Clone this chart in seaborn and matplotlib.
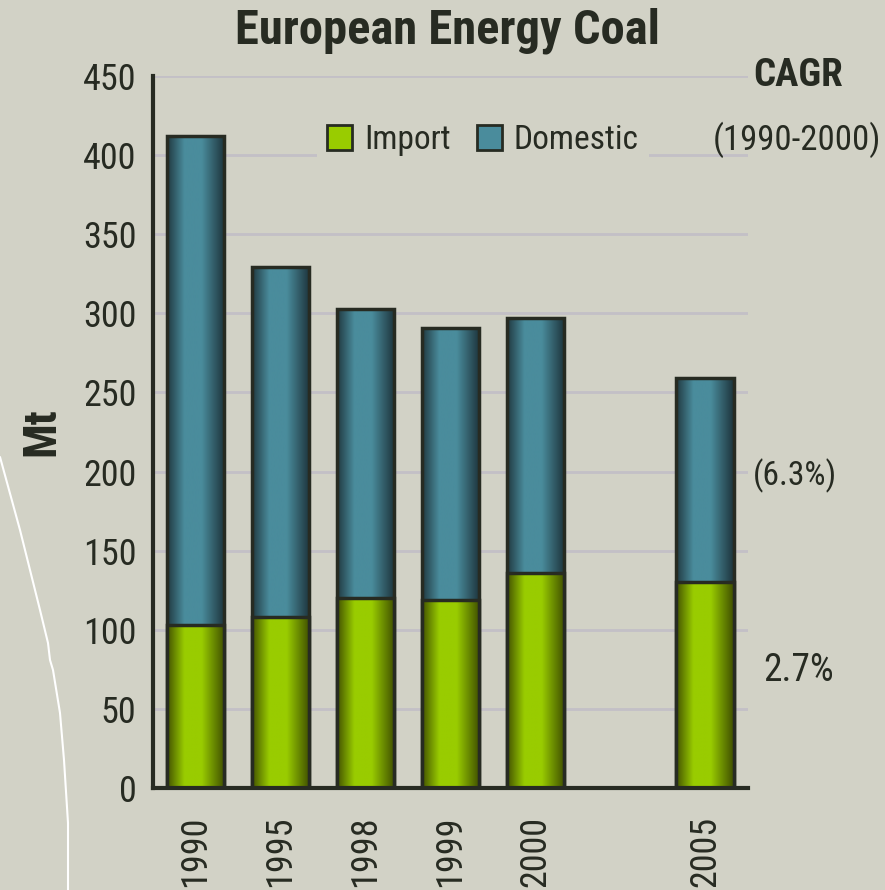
import numpy as np
import pandas as pd
import matplotlib
matplotlib.use('Agg')
import matplotlib.pyplot as plt
import seaborn as sns
from matplotlib.colors import LinearSegmentedColormap
from matplotlib.patches import Patch
from matplotlib.lines import Line2D

# data (Mt); blank slot between 2000 and 2005
years = ['1990', '1995', '1998', '1999', '2000', '', '2005']
imports = [103, 108, 120, 119, 136, np.nan, 130]
domestic = [309, 221, 183, 172, 161, np.nan, 129]
cagr_labels = ['(6.3%)', '2.7%']

bg = '#d2d2c6'
ink = '#272b22'
grid_col = '#c3c0c6'

sns.set_style('white')
plt.rcParams['font.family'] = ['Roboto Condensed', 'DejaVu Sans']

df = pd.DataFrame({'year': years, 'import': imports, 'domestic': domestic})
df['total'] = df['import'] + df['domestic']

fig = plt.figure(figsize=(8.85, 8.9), dpi=100, facecolor=bg)
ax = fig.add_axes([0.173, 0.1146, 0.672, 0.80])
ax.set_facecolor(bg)

teal_cmap = LinearSegmentedColormap.from_list('teal', [
    (0.0, '#203840'), (0.3, '#4a8c9c'), (0.6, '#4a8c9c'), (1.0, '#1d333b')])
green_cmap = LinearSegmentedColormap.from_list('green', [
    (0.0, '#425200'), (0.3, '#99cc00'), (0.6, '#99cc00'), (1.0, '#3e4e00')])


def gradient_fill(patches, cmap, z):
    grad = np.linspace(0, 1, 256).reshape(1, -1)
    for p in patches:
        if not np.isfinite(p.get_height()) or p.get_height() == 0:
            continue
        x0, y0 = p.get_x(), p.get_y()
        w, h = p.get_width(), p.get_height()
        im = ax.imshow(grad, cmap=cmap, aspect='auto', interpolation='bilinear',
                       extent=[x0, x0 + w, y0, y0 + h], zorder=z)
        im.set_clip_path(p)
        p.set_facecolor('none')
        p.set_zorder(z + 0.05)


n0 = len(ax.patches)
sns.barplot(data=df, x='year', y='total', order=years, color='#4a8c9c',
            width=0.68, edgecolor=ink, linewidth=2.5, errorbar=None, ax=ax)
teal_bars = ax.patches[n0:]
n1 = len(ax.patches)
sns.barplot(data=df, x='year', y='import', order=years, color='#99cc00',
            width=0.68, edgecolor=ink, linewidth=2.5, errorbar=None, ax=ax)
green_bars = ax.patches[n1:]

gradient_fill(teal_bars, teal_cmap, 2.0)
gradient_fill(green_bars, green_cmap, 2.2)

ax.set_xlim(-0.5, len(years) - 0.5)
ax.set_ylim(0, 450)
ax.set_yticks(np.arange(0, 451, 50))
ax.set_xticks(range(len(years)))
ax.set_xticklabels(years, rotation=90)
ax.set_xticks(np.arange(-0.5, len(years), 1), minor=True)
ax.tick_params(axis='x', which='major', length=0, pad=20, labelsize=26, labelcolor=ink)
ax.tick_params(axis='x', which='minor', length=9, width=3, color=ink, direction='out')
ax.tick_params(axis='y', length=9, width=3, color=ink, direction='out', pad=3,
               labelsize=26, labelcolor=ink)

ax.set_axisbelow(True)
ax.yaxis.grid(True, color=grid_col, linewidth=2)
ax.xaxis.grid(False)
for s in ['top', 'right']:
    ax.spines[s].set_visible(False)
for s in ['left', 'bottom']:
    ax.spines[s].set_color(ink)
    ax.spines[s].set_linewidth(3)

ax.set_xlabel('')
ax.set_ylabel('Mt', fontsize=33, fontweight='bold', color=ink, labelpad=14)

handles = [Patch(facecolor='#99cc00', edgecolor=ink, linewidth=2),
           Patch(facecolor='#4a8c9c', edgecolor=ink, linewidth=2)]
leg = ax.legend(handles, ['Import', 'Domestic'], loc='center',
                bbox_to_anchor=(0.555, 0.91), ncol=2, frameon=True, fontsize=24,
                handlelength=0.75, handleheight=0.75, handletextpad=0.35,
                columnspacing=0.8, borderpad=0.3, labelcolor=ink)
leg.get_frame().set_facecolor(bg)
leg.get_frame().set_edgecolor('none')
leg.get_frame().set_alpha(1)
leg.set_zorder(5)

fig.text(0.506, 0.965, 'European Energy Coal', ha='center', va='center',
         fontsize=35, fontweight='bold', color=ink)
fig.text(0.902, 0.915, 'CAGR', ha='center', va='center', fontsize=28,
         fontweight='bold', color=ink)
fig.text(0.901, 0.843, '(1990-2000)', ha='center', va='center', fontsize=25,
         color=ink)
fig.text(0.898, 0.465, cagr_labels[0], ha='center', va='center', fontsize=24,
         color=ink)
fig.text(0.902, 0.247, cagr_labels[1], ha='center', va='center', fontsize=27,
         color=ink)

# decorative white curve at the left edge
px = np.array([0, 20, 40, 48, 50, 53, 60, 64, 68, 68])
py = np.array([457, 530, 610, 643, 660, 670, 713, 760, 823, 890])
fig.add_artist(Line2D(px / 885, 1 - py / 890, transform=fig.transFigure,
                      color='white', linewidth=1.5))

fig.savefig('out.png', dpi=100, facecolor=bg)
